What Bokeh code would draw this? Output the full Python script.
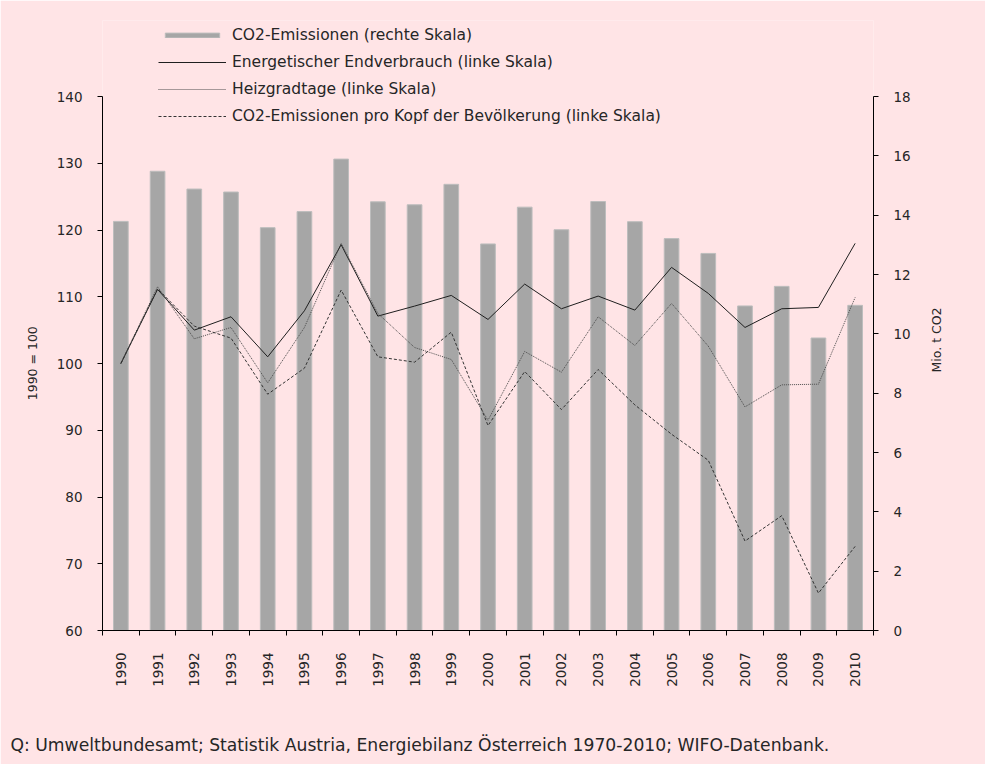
import math
from bokeh.plotting import figure
from bokeh.models import (Range1d, LinearAxis, FixedTicker, Legend, LegendItem,
                          ColumnDataSource, Title)
from bokeh.embed import file_html
from bokeh.resources import INLINE

# ---- data ----
years = [str(y) for y in range(1990, 2011)]
co2_mt = [13.79, 15.48, 14.88, 14.78, 13.58, 14.12, 15.89, 14.45, 14.35, 15.04, 13.03,
          14.27, 13.51, 14.46, 13.78, 13.21, 12.71, 10.94, 11.60, 9.86, 10.96]
endverbrauch = [100.0, 111.1, 105.0, 107.0, 101.0, 107.9, 117.8, 107.1, 108.6, 110.2, 106.6,
                111.9, 108.2, 110.1, 108.0, 114.4, 110.5, 105.4, 108.2, 108.4, 118.0]
heizgradtage = [100.0, 111.5, 103.7, 105.4, 97.1, 105.4, 118.0, 107.5, 102.4, 100.6, 91.5,
                101.8, 98.7, 107.0, 102.7, 109.0, 102.6, 93.5, 96.8, 96.9, 109.9]
co2_pro_kopf = [100.0, 111.2, 105.6, 103.8, 95.4, 99.3, 111.0, 101.0, 100.2, 104.7, 90.7,
                98.8, 93.1, 99.1, 93.8, 89.4, 85.5, 73.4, 77.2, 65.6, 72.6]
left_ticks = [60, 70, 80, 90, 100, 110, 120, 130, 140]
right_ticks = [0, 2, 4, 6, 8, 10, 12, 14, 16, 18]
caption = "Q: Umweltbundesamt; Statistik Austria, Energiebilanz Österreich 1970-2010; WIFO-Datenbank."
right_title = "Mio. t CO2"

BG = "#FFE4E6"
FONT = "DejaVu Sans"
TXT = "#262626"
NBSP = "\u00a0"

# layout geometry (pixels)
W, H = 985, 764
F_LEFT, F_RIGHT = 102, 873
AX_TOP, F_BOTTOM = 96, 630      # where 140 / 18 sit, and the x axis
F_TOP = 20                      # frame extends above the axes to host the legend
RIGHT_TITLE_START = 372         # pixel row where the right axis title begins

left_lo, left_hi = 60, 140
right_lo, right_hi = 0, 18
px_left = (F_BOTTOM - AX_TOP) / (left_hi - left_lo)
px_right = (F_BOTTOM - AX_TOP) / (right_hi - right_lo)
left_end = left_hi + (AX_TOP - F_TOP) / px_left
right_end = right_hi + (AX_TOP - F_TOP) / px_right
right_title_at = (F_BOTTOM - RIGHT_TITLE_START) / px_right

idx = list(range(len(years)))
src = ColumnDataSource(dict(i=idx, co2=co2_mt, ev=endverbrauch, hgt=heizgradtage, pk=co2_pro_kopf))

p = figure(width=W, height=H, x_range=Range1d(-0.5, len(years) - 0.5),
           y_range=Range1d(left_lo, left_end), output_backend="svg", toolbar_location=None,
           min_border_left=F_LEFT, min_border_right=W - F_RIGHT,
           min_border_top=F_TOP, min_border_bottom=H - F_BOTTOM)
p.background_fill_color = BG
p.border_fill_color = BG
p.outline_line_color = None
p.xgrid.visible = False
p.ygrid.visible = False
p.extra_y_ranges = {"co2": Range1d(right_lo, right_end)}

r_bar = p.vbar(x="i", top="co2", bottom=0, width=0.4, source=src, y_range_name="co2",
               fill_color="#A6A6A6", line_color="#BDBDBD", line_width=1)
r_ev = p.line(x="i", y="ev", source=src, line_color="#1F1F1F", line_width=1)
r_hgt = p.line(x="i", y="hgt", source=src, line_color="#4D4D4D", line_width=1, line_dash="1 1")
r_pk = p.line(x="i", y="pk", source=src, line_color="#333333", line_width=1, line_dash="3 2")

# x axis
xa = p.xaxis[0]
xa.ticker = FixedTicker(ticks=idx, minor_ticks=[i - 0.5 for i in range(len(years) + 1)])
xa.major_label_overrides = {i: y for i, y in zip(idx, years)}
xa.major_label_orientation = math.pi / 2
xa.major_tick_out = 0
xa.major_tick_in = 0
xa.minor_tick_out = 5
xa.minor_tick_in = 0
xa.major_label_standoff = 17
xa.axis_label = NBSP          # spacer keeping the source line low
xa.axis_label_standoff = 15

# left axis (axis line only spans 60..140)
ya = p.yaxis[0]
ya.ticker = FixedTicker(ticks=left_ticks, minor_ticks=[])
ya.bounds = (left_lo, left_hi)
ya.major_tick_out = 5
ya.major_tick_in = 0
ya.minor_tick_out = 0
ya.minor_tick_in = 0
ya.major_label_standoff = 15
ya.axis_label = "1990 = 100" + NBSP * 19
ya.axis_label_standoff = 14

# right axis
ra = LinearAxis(y_range_name="co2", ticker=FixedTicker(ticks=right_ticks, minor_ticks=[]))
ra.bounds = (right_lo, right_hi)
ra.major_tick_out = 5
ra.major_tick_in = 0
ra.minor_tick_out = 0
ra.minor_tick_in = 0
ra.major_label_standoff = 15
p.add_layout(ra, "right")

# right axis title, drawn as the single label of an otherwise invisible axis
rt = LinearAxis(y_range_name="co2", ticker=FixedTicker(ticks=[right_title_at], minor_ticks=[]))
rt.major_label_overrides = {right_title_at: right_title}
rt.major_label_orientation = math.pi / 2
rt.axis_line_color = None
rt.major_tick_line_color = None
rt.minor_tick_line_color = None
rt.major_tick_out = 0
rt.major_tick_in = 0
rt.minor_tick_out = 0
rt.minor_tick_in = 0
rt.major_label_standoff = 23
rt.major_label_text_font = FONT
rt.major_label_text_font_size = "12.5px"
rt.major_label_text_color = TXT
p.add_layout(rt, "right")

for ax in (xa, ya, ra):
    ax.axis_line_color = "black"
    ax.major_tick_line_color = "black"
    ax.minor_tick_line_color = "black"
    ax.major_label_text_font = FONT
    ax.major_label_text_font_size = "13.5px"
    ax.major_label_text_color = TXT
    ax.axis_label_text_font = FONT
    ax.axis_label_text_font_size = "12.5px"
    ax.axis_label_text_font_style = "normal"
    ax.axis_label_text_color = TXT

legend = Legend(items=[
    LegendItem(label="CO2-Emissionen (rechte Skala)", renderers=[r_bar]),
    LegendItem(label="Energetischer Endverbrauch (linke Skala)", renderers=[r_ev]),
    LegendItem(label="Heizgradtage (linke Skala)", renderers=[r_hgt]),
    LegendItem(label="CO2-Emissionen pro Kopf der Bevölkerung (linke Skala)", renderers=[r_pk]),
], location=(158 - F_LEFT, F_BOTTOM - 126), orientation="vertical")
legend.glyph_width = 68
legend.glyph_height = 6
legend.label_height = 20
legend.spacing = 7
legend.padding = 0
legend.margin = 0
legend.label_standoff = 6
legend.border_line_color = None
legend.background_fill_alpha = 0
legend.label_text_font = FONT
legend.label_text_font_size = "15.5px"
legend.label_text_color = TXT
p.add_layout(legend)

cap = Title(text=caption, align="left", offset=10 - F_LEFT, standoff=20,
            text_font=FONT, text_font_size="17.2px", text_font_style="normal",
            text_color=TXT)
p.add_layout(cap, "below")

html = file_html(p, INLINE, title="CO2")
html = html.replace("<body>", '<body style="margin:0;background-color:%s;">' % BG, 1)
open("out.html", "w").write(html)
